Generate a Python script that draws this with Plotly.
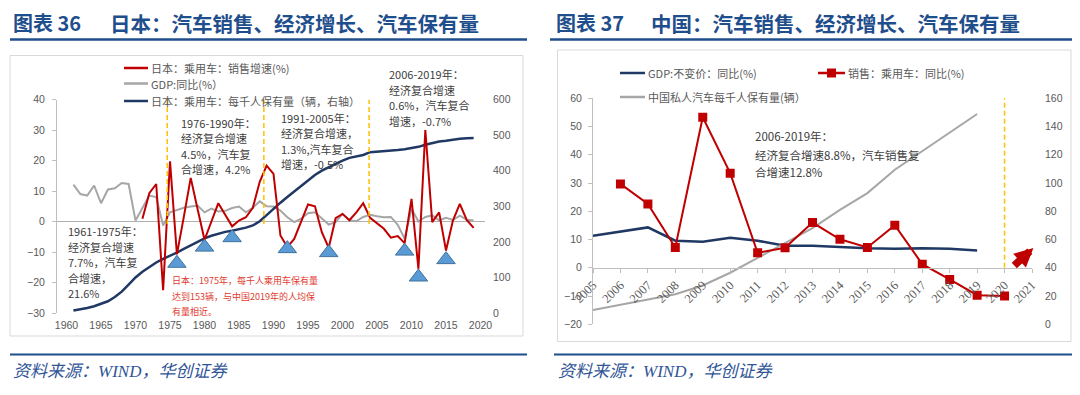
import plotly.graph_objects as go

# page is 1080x395; the html body adds an 8px margin, so the figure is drawn
# 8px in from the top-left and sized to fill the rest of the window.
PAGE_W, PAGE_H, OFF = 1080, 395, 8
W, H = PAGE_W - OFF, PAGE_H - OFF

# ---------------- Japan (chart 36) ----------------
jp_years = list(range(1961, 2020))
jp_gdp = [12.1, 9.0, 8.5, 11.8, 6.0, 10.5, 10.9, 12.6, 12.3, 0.3,
          4.4, 8.5, 8.0, -1.3, 3.0, 3.8, 4.5, 4.9, 5.2, 3.0,
          4.2, 3.3, 3.5, 4.4, 4.9, 3.0, 4.5, 6.6, 5.0, 4.9,
          3.6, 1.4, -0.2, 0.9, 2.7, 3.0, 0.9, -1.0, -0.2, 2.5,
          0.4, 0.1, 1.5, 2.2, 1.7, 1.4, 1.5, -1.1, -5.6, 4.2,
          0.0, 1.5, 2.0, 0.4, 1.2, 0.5, 1.9, 0.6, 0.3]
jp_own = [7, 10, 14, 19, 25, 33, 45, 60, 80, 100,
          116, 130, 142, 152, 160, 170, 180, 190, 200, 210,
          217, 223, 228, 231, 235, 240, 246, 258, 275, 293,
          310, 326, 342, 356, 372, 388, 400, 410, 420, 428,
          436, 441, 444, 452, 453, 454, 456, 458, 460, 463,
          467, 473, 478, 482, 484, 488, 490, 491, 492]
jp_sales_years = list(range(1971, 2020))
jp_sales = [0.9, 9.3, 12.3, -22.5, 19.7, -10.8, 1.5, 14.3, 4.0, -6.0,
            0.0, 6.0, 2.2, -1.6, 0.3, 1.4, 4.5, 13.0, 18.3, 15.6,
            -4.6, -8.4, -5.7, 0.0, 5.6, 5.0, -3.5, -8.6, 1.1, 2.5,
            0.4, 3.0, 6.0, 1.2, -0.5, -2.4, -5.3, -4.8, -7.1, 7.4,
            -15.5, 30.0, -0.2, 3.0, -9.5, 0.3, 5.8, 0.5, -2.1]
jp_tri_years = [1976, 1980, 1984, 1992, 1998, 2009, 2011, 2015]
jp_tri_vals = [-13.7, -8.4, -5.3, -8.9, -10.2, -9.7, -18.2, -12.5]
jp_period_bounds = [1974.6, 1988.6, 2003.85]
jp_xticks = list(range(1960, 2021, 5))

# ---------------- China (chart 37) ----------------
cn_years = list(range(2005, 2020))
cn_gdp = [11.3, 12.8, 14.3, 9.6, 9.2, 10.6, 9.6, 7.8, 7.8, 7.4, 6.9, 6.7, 6.9, 6.7, 6.1]
cn_own = [10.1, 13.7, 17.2, 21.3, 27.5, 36.5, 47.0, 57.7, 68.1, 81.0, 92.9, 109.4, 122.4, 135.5, 148.9]
cn_sales_years = list(range(2006, 2021))
cn_sales = [29.7, 22.6, 7.2, 53.3, 33.5, 5.3, 7.1, 16.0, 10.1, 7.2, 15.1, 1.3, -4.1, -9.7, -10.0]
cn_xticks = list(range(2005, 2022))
cn_bound = 2020

NAVY = "#1F3864"
RED = "#C00000"
GRAY = "#A6A6A6"
ORANGE = "#FFC000"
TITLE_BLUE = "#1F4E8C"
TXT = "#404040"
TICK = "#595959"
AX = "#BFBFBF"
CJK = "Noto Sans CJK SC"


def px(x):
    return (x - OFF) / W


def py(y):
    return 1 - (y - OFF) / H


# plot-area pixel boxes (page coordinates)
L_X0, L_X1, L_Y0, L_Y1 = 57, 485, 99.5, 313.0
R_X0, R_X1, R_Y0, R_Y1 = 593, 1032, 98.3, 324.3

fig = go.Figure()

# Japan traces
fig.add_trace(go.Scatter(x=jp_years, y=jp_gdp, mode="lines", xaxis="x", yaxis="y",
                         line=dict(color=GRAY, width=2), name="GDP"))
fig.add_trace(go.Scatter(x=jp_years, y=jp_own, mode="lines", xaxis="x", yaxis="y2",
                         line=dict(color=NAVY, width=2.5), name="own"))
fig.add_trace(go.Scatter(x=jp_sales_years, y=jp_sales, mode="lines", xaxis="x", yaxis="y5",
                         line=dict(color=RED, width=2), name="sales"))
fig.add_trace(go.Scatter(x=jp_tri_years, y=jp_tri_vals, mode="markers", xaxis="x", yaxis="y5",
                         marker=dict(symbol="triangle-up", size=16, color="#5B9BD5",
                                     line=dict(color="#41719C", width=1)), name="tri"))

# China traces
fig.add_trace(go.Scatter(x=cn_years, y=cn_gdp, mode="lines", xaxis="x2", yaxis="y3",
                         line=dict(color=NAVY, width=2.5), name="cn gdp"))
fig.add_trace(go.Scatter(x=cn_years, y=cn_own, mode="lines", xaxis="x2", yaxis="y4",
                         line=dict(color=GRAY, width=2), name="cn own"))
fig.add_trace(go.Scatter(x=cn_sales_years, y=cn_sales, mode="lines+markers", xaxis="x2", yaxis="y6",
                         line=dict(color=RED, width=2),
                         marker=dict(symbol="square", size=9, color=RED), name="cn sales"))

tickfont = dict(family="Liberation Sans", size=10.5, color=TICK)

ly_dom = [py(L_Y1), py(L_Y0)]
ry_dom = [py(R_Y1), py(R_Y0)]
r_zero_pos = ry_dom[0] + (0 - (-20)) / 80 * (ry_dom[1] - ry_dom[0])

fig.update_layout(
    width=W, height=H,
    margin=dict(l=0, r=0, t=0, b=0, pad=0, autoexpand=False),
    paper_bgcolor="white", plot_bgcolor="rgba(0,0,0,0)",
    showlegend=False,
    xaxis=dict(domain=[px(L_X0), px(L_X1)], range=[1958.62, 2020.65], anchor="y",
               tickvals=jp_xticks, showgrid=False, zeroline=False, showline=False,
               ticks="", tickfont=tickfont, ticklabelstandoff=4, automargin=False),
    yaxis=dict(domain=ly_dom, range=[-30, 40], dtick=10, anchor="x",
               showgrid=False, zeroline=True, zerolinecolor="#B0B0B0", zerolinewidth=1,
               showline=True, linecolor=AX, linewidth=1, ticks="outside", ticklen=4,
               tickcolor=AX, tickfont=tickfont, ticklabelstandoff=5, automargin=False),
    yaxis2=dict(domain=ly_dom, range=[0, 600], dtick=100, overlaying="y", side="right",
                anchor="x", showgrid=False, zeroline=False, showline=False, ticks="",
                tickfont=tickfont, ticklabelstandoff=7, automargin=False),
    yaxis5=dict(domain=ly_dom, matches="y", overlaying="y", anchor="x", visible=False,
                showgrid=False, zeroline=False, automargin=False),
    xaxis2=dict(domain=[px(R_X0), px(R_X1)], range=[2005, 2021], anchor="free",
                position=r_zero_pos, tickvals=cn_xticks, tickangle=-45,
                showgrid=False, zeroline=False, showline=True, linecolor=AX, linewidth=1,
                ticks="outside", ticklen=4, tickcolor=AX, automargin=False,
                tickfont=dict(family="Liberation Serif", size=12.5, color=TICK)),
    yaxis3=dict(domain=ry_dom, range=[-20, 60], dtick=10, anchor="x2",
                showgrid=False, zeroline=False, showline=True, linecolor=AX, linewidth=1,
                ticks="outside", ticklen=4, tickcolor=AX, tickfont=tickfont,
                ticklabelstandoff=4, automargin=False),
    yaxis4=dict(domain=ry_dom, range=[0, 160], dtick=20, overlaying="y3", side="right",
                anchor="x2", showgrid=False, zeroline=False, showline=False, ticks="",
                tickfont=tickfont, ticklabelstandoff=12, automargin=False),
    yaxis6=dict(domain=ry_dom, matches="y3", overlaying="y3", anchor="x2", visible=False,
                showgrid=False, zeroline=False, automargin=False),
)

shapes = []


def hline(x0, x1, y, color, width, dash=None):
    d = dict(type="line", xref="paper", yref="paper", x0=px(x0), x1=px(x1), y0=py(y), y1=py(y),
             line=dict(color=color, width=width))
    if dash:
        d["line"]["dash"] = dash
    return d


def rect(x0, x1, y0, y1, color):
    return dict(type="rect", xref="paper", yref="paper", x0=px(x0), x1=px(x1), y0=py(y1), y1=py(y0),
                line=dict(color=color, width=1), fillcolor="rgba(0,0,0,0)", layer="below")


# title underlines and footer rules
shapes += [hline(10, 527, 39.5, TITLE_BLUE, 2.5), hline(550, 1077, 39.5, TITLE_BLUE, 2.5),
           hline(10, 527, 354.5, TITLE_BLUE, 2), hline(554, 1078, 354.5, TITLE_BLUE, 2)]
# chart frames
shapes += [rect(10, 523, 55.5, 336, "#D9D9D9"), rect(557.5, 1071, 50, 341.5, "#D9D9D9")]
# period separators (orange dashed)
for b in jp_period_bounds:
    shapes.append(dict(type="line", xref="x", yref="y", x0=b, x1=b, y0=-0.8, y1=40,
                       line=dict(color=ORANGE, width=1.5, dash="5px,3px")))
shapes.append(dict(type="line", xref="x2", yref="y3", x0=cn_bound, x1=cn_bound, y0=0, y1=60,
                   line=dict(color=ORANGE, width=1.5, dash="5px,3px")))
# legend swatches
shapes += [hline(124, 148, 68, RED, 2.5), hline(124, 148, 83.5, GRAY, 2.5),
           hline(124, 148, 101, NAVY, 2.5)]
shapes += [hline(620, 645, 73, NAVY, 2.5), hline(818, 845, 73, RED, 2.5),
           hline(620, 645, 97, GRAY, 2.5)]
shapes.append(dict(type="rect", xref="paper", yref="paper", x0=px(827), x1=px(836),
                   y0=py(77.5), y1=py(68.5), line=dict(color=RED, width=0), fillcolor=RED))

annotations = []


def txt(x, y, s, size=11, color=TXT, family=CJK, xanchor="left"):
    annotations.append(dict(xref="paper", yref="paper", x=px(x), y=py(y), text=s,
                            showarrow=False, xanchor=xanchor, yanchor="middle",
                            font=dict(size=size, color=color, family=family)))


def block(x, ys, lines, size=11, color=TXT):
    for yy, s in zip(ys, lines):
        txt(x, yy, s, size=size, color=color)


# titles
txt(11, 23, "<b>图表 36</b>", size=20, color=TITLE_BLUE)
txt(108, 23, "<b>日本：汽车销售、经济增长、汽车保有量</b>", size=20.5, color=TITLE_BLUE)
txt(554, 23, "<b>图表 37</b>", size=20, color=TITLE_BLUE)
txt(649, 23, "<b>中国：汽车销售、经济增长、汽车保有量</b>", size=20.5, color=TITLE_BLUE)

# footers
foot_family = "Liberation Serif, Noto Sans CJK SC"
txt(11, 371.5, "<i>资料来源：WIND，华创证券</i>", size=17, color="#2F5597", family=foot_family)
txt(556, 371.5, "<i>资料来源：WIND，华创证券</i>", size=17, color="#2F5597", family=foot_family)

# legends
txt(148.5, 68, "日本：乘用车：销售增速(%)", size=11, color=TICK)
txt(148.5, 83.5, "GDP:同比(%）", size=11, color=TICK)
txt(148.5, 101, "日本：乘用车：每千人保有量（辆，右轴）", size=11, color=TICK)
txt(645.5, 73, "GDP:不变价：同比(%)", size=11, color=TICK)
txt(846, 73, "销售：乘用车：同比(%)", size=11, color=TICK)
txt(645.5, 97, "中国私人汽车每千人保有量(辆）", size=11, color=TICK)

# Japan text blocks
block(66, [231, 246.5, 262, 277.5, 293],
      ["1961-1975年：", "经济复合增速", "7.7%，汽车复", "合增速，", "21.6%"])
block(179, [123, 138.5, 154, 169],
      ["1976-1990年：", "经济复合增速", "4.5%，汽车复", "合增速，4.2%"])
block(279, [118, 133.3, 148.6, 164],
      ["1991-2005年：", "经济复合增速，", "1.3%,汽车复合", "增速，-0.5%"])
block(387, [74, 89.7, 105.3, 121],
      ["2006-2019年：", "经济复合增速", "0.6%，汽车复合", "增速，-0.7%"])
block(170, [280.5, 296, 311],
      ["日本：1975年，每千人乘用车保有量", "达到153辆，与中国2019年的人均保", "有量相近。"],
      size=9, color="#E03C31")

# China text block
block(753, [136, 154.5, 172.3],
      ["2006-2019年：", "经济复合增速8.8%，汽车销售复", "合增速12.8%"], size=11.5)

# red outlook arrow (China): tail lower-left, tip upper-right
annotations.append(dict(xref="x2", yref="y3", x=2021.05, y=7.0, axref="x2", ayref="y3",
                        ax=2020.3, ay=0.3, text="", showarrow=True, arrowhead=2,
                        arrowsize=0.5, arrowwidth=7.5, arrowcolor=RED, standoff=0,
                        startstandoff=0))

fig.update_layout(shapes=shapes, annotations=annotations)

fig.write_html("out.html")
